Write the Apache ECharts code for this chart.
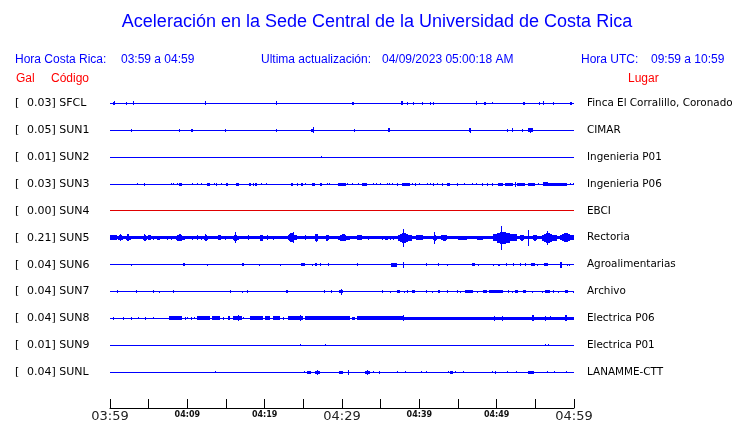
<!DOCTYPE html>
<html><head><meta charset="utf-8">
<script src="https://cdn.jsdelivr.net/npm/echarts@6/dist/echarts.min.js"></script>
<style>html,body{margin:0;padding:0;background:#fff}#c{width:740px;height:423px}</style>
</head><body><div id="c"></div>
<script>
// ---- data ----
const codes = ['SFCL','SUN1','SUN2','SUN3','SUN4','SUN5','SUN6','SUN7','SUN8','SUN9','SUNL'];
const galPeak = ['0.03','0.05','0.01','0.03','0.00','0.21','0.04','0.04','0.04','0.01','0.04'];
const places = ['Finca El Corralillo, Coronado','CIMAR','Ingenieria P01','Ingenieria P06','EBCI','Rectoria','Agroalimentarias','Archivo','Electrica P06','Electrica P01','LANAMME-CTT'];
const tickLabels = ['03:59','04:09','04:19','04:29','04:39','04:49','04:59'];
// baseline noise (relative half-amplitude)
const noiseLevel = [0.5,0.5,0.5,0.5,0.5,1.5,0.5,0.5,0.7,0.5,0.5];
// bursts: [startMinute, endMinute, relative half-amplitude]  (minutes after 03:59)
const SFCL = [[0.43,0.65,1.5],[0.56,0.56,2],[2.11,2.11,1.5],[2.94,2.94,2],[12.32,12.32,2],[21.5,21.5,2],[31.3,31.6,1.5],[37.63,37.89,2],[38.44,38.44,1.5],[39.22,39.22,1.5],[40.3,40.3,1.5],[41.38,41.38,1.5],[41.8,41.8,1.5],[47.35,47.5,2],[48.4,48.66,1.5],[49.35,49.35,1],[53.4,53.66,1.5],[55.47,55.47,1.5],[56.03,56.03,2],[57.28,57.28,1.5],[59.5,59.75,1.5]];
const SUN1 = [[2.75,2.75,1.5],[8.96,8.96,1.5],[10.5,10.7,1.5],[14.91,14.91,1.5],[21.5,21.5,1.5],[26.0,26.35,1.5],[26.21,26.21,3],[31.59,31.59,1.5],[35.9,36.25,2],[46.4,46.7,2],[46.55,46.55,2.5],[51.29,51.29,1.5],[51.94,51.94,2],[53.31,53.31,1.5],[54.05,54.66,2],[54.3,54.3,2.5]];
const SUN2 = [[27.28,27.28,1]];
const SUN3 = [[3.53,3.53,0.7],[4.44,4.44,1.5],[7.89,7.89,1],[8.19,8.19,1],[8.71,8.71,0.7],[8.96,9.31,1.5],[10.65,10.65,1],[11.25,11.25,1],[11.81,11.81,1],[12.5,12.93,1.5],[13.49,13.49,1],[13.71,13.71,1.5],[14.31,14.31,1],[15.0,15.26,1.5],[16.29,16.72,1.5],[17.93,18.19,1.5],[18.45,18.45,1.5],[18.71,19.05,1.5],[19.52,19.52,1],[20.17,20.17,1],[23.36,23.71,1.5],[24.14,24.14,1.5],[24.65,25.0,1.5],[25.17,25.17,1],[26.12,26.46,1.5],[27.15,27.37,1.5],[28.02,28.02,1],[28.36,28.36,1],[29.52,30.51,1.5],[30.6,30.6,1],[31.33,31.33,0.7],[32.02,32.02,1],[32.54,33.19,1.5],[33.96,33.96,1],[34.39,34.39,1],[34.91,34.91,0.7],[35.86,35.86,1],[36.12,36.12,1],[36.42,36.42,1],[37.07,37.07,1.5],[37.71,38.79,1.5],[39.05,39.05,1],[39.44,39.44,1.5],[39.95,39.95,1],[40.95,40.95,1],[41.38,41.38,1],[41.81,41.81,1.5],[42.24,42.24,1],[42.88,42.88,1.5],[43.53,43.96,1.5],[44.82,44.82,1.5],[45.82,45.82,1],[46.76,46.76,0.7],[47.32,47.32,1],[48.06,48.06,1.5],[48.7,48.7,1.5],[49.35,49.35,1.5],[50.21,50.86,1.5],[51.07,52.15,1.5],[52.37,52.37,2.5],[52.58,53.66,1.5],[54.09,54.95,1.5],[55.38,55.38,1],[56.03,56.68,2],[56.68,59.05,1.5],[59.48,59.48,1],[59.91,59.91,1]];
const SUN4 = [];
const SUN5 = [[0,0.87,2.3],[1.07,1.72,3.3],[2.07,2.68,3.7],[4.31,4.75,3.5],[4.87,5.26,2.5],[5.6,5.6,2],[6.04,6.47,2],[7.41,7.41,2],[7.85,7.85,2],[8.53,9.7,3.7],[10.56,10.56,2],[11.21,11.21,2.5],[11.77,11.77,2],[12.15,12.71,3.7],[14.0,14.31,2.5],[14.87,14.87,2],[15.87,16.72,4],[16.16,16.16,5.5],[17.88,17.88,2.5],[19.4,19.74,3],[20.26,20.26,2.5],[21.04,21.04,2],[22.98,24.14,4.5],[23.62,23.62,5.7],[25.21,25.21,2.5],[26.51,26.94,3.5],[26.7,26.7,4],[27.8,28.45,3],[29.52,31.03,3.5],[31.9,32.55,2.5],[33.4,33.4,2],[35.13,35.13,2],[35.56,35.99,2],[36.2,36.2,2],[36.63,36.63,2],[37.28,39.01,5],[37.85,37.85,9],[39.57,40.51,2.5],[41.8,42.24,3.5],[41.9,41.9,6],[42.67,43.97,3],[45.04,46.12,2],[47.42,48.27,1.8],[49.56,52.59,6],[50.56,50.56,12],[52.79,53.88,3],[54.09,54.09,8],[54.53,55.6,3],[55.82,57.76,5],[56.5,56.5,7],[58.19,60,4.5]];
const SUN6 = [[2.67,2.67,1],[9.4,9.65,1.5],[12.59,12.59,1],[14.44,14.44,0.7],[15.09,15.09,0.7],[17.02,17.33,1.5],[18.19,18.19,0.7],[19.27,19.27,1],[21.98,21.98,1],[24.7,25.21,1.5],[26.16,26.16,1],[26.5,26.8,1.5],[27.15,27.15,1.5],[28.14,28.14,1.5],[31.89,31.89,1.5],[35.26,35.26,0.7],[36.29,37.07,2],[37.93,37.93,3],[40.82,40.82,1.5],[42.45,42.45,1.5],[43.53,43.53,1],[45.82,45.82,0.5],[46.76,47.19,1.5],[47.63,47.63,1],[49.57,49.57,1],[50.21,50.43,1],[51.2,51.2,1.5],[52.15,52.15,1.5],[53.01,53.01,1.5],[53.66,53.66,1.5],[54.39,54.95,1.5],[55.25,55.25,1],[56.16,56.68,1.5],[58.19,58.41,3],[59.05,59.05,1],[59.39,59.39,1]];
const SUN7 = [[0.86,0.86,1.5],[3.36,3.36,1.5],[5.6,5.6,1.5],[6.38,6.38,1],[8.19,8.19,1.5],[15.52,15.52,1.5],[17.02,17.02,1],[17.67,17.67,1.5],[21.12,21.12,0.7],[22.76,23.06,1.5],[27.67,27.67,1.5],[28.53,28.53,1.5],[29.65,30.17,1.5],[29.91,29.91,3],[35.13,35.13,1.5],[36.2,36.2,1],[37.07,37.5,1.5],[38.01,38.01,1],[38.36,38.36,1.5],[39.01,39.44,1.5],[40.86,40.86,1.5],[41.59,41.59,1],[42.45,42.67,1.5],[43.53,43.53,1.5],[44.82,44.82,1.5],[45.26,45.26,1],[45.9,46.98,1.5],[47.41,47.41,1],[48.19,48.7,1.5],[49.05,50.86,1.5],[51.5,51.5,1.5],[51.94,51.94,1],[52.37,52.8,1.5],[53.36,53.79,1.5],[54.52,54.52,1],[55.81,55.81,1],[56.25,56.89,1.5],[57.32,57.32,1.5],[57.97,57.97,1],[58.83,59.26,1.5],[59.91,59.91,1]];
const SUN8 = [[0.43,0.43,1.5],[1.64,1.64,1.5],[2.67,2.67,1.5],[3.58,3.58,1],[4.53,4.53,1.5],[5.6,5.6,1],[7.15,7.15,0.7],[7.63,9.27,2],[9.7,9.7,1.5],[10.0,10.0,1],[10.43,10.43,1.5],[10.9,10.9,1],[11.29,12.93,2],[13.15,14.22,2],[14.65,14.65,1.5],[15.21,15.52,2],[15.95,17.02,2],[16.59,16.59,3],[17.2,17.2,1],[18.1,19.83,2],[20.04,20.69,2],[21.12,21.98,2],[22.41,22.41,1.5],[23.06,25.0,2],[24.57,24.57,3],[25.21,31.03,2],[31.3,31.68,1.5],[31.9,37.93,2],[37.93,37.93,3],[37.93,60,1.3],[49.7,49.7,2.5],[50.73,50.73,2.5],[54.52,54.87,3],[56.25,56.25,2.5],[56.9,56.9,2],[58.83,59.05,3]];
const SUN9 = [[24.57,24.57,1],[27.84,27.84,1],[33.01,33.01,0.7],[54.6,54.6,0.7],[56.25,56.25,1],[56.67,56.67,1]];
const SUNL = [[13.58,13.58,0.7],[25.08,25.08,0.7],[25.43,25.95,1.5],[26.51,27.15,1.5],[26.8,26.8,2.5],[29.65,30.09,1.5],[30.81,30.81,2.5],[32.97,33.62,1.5],[33.23,33.23,2.5],[34.05,34.05,1],[34.82,34.82,1.5],[37.15,37.15,1],[38.18,38.18,1],[40.17,40.17,0.7],[40.82,40.82,1],[43.67,43.67,1],[43.96,44.31,1.5],[44.65,44.65,1],[45.6,45.6,0.7],[49.35,49.35,1],[49.78,49.78,1.5],[51.37,51.37,1],[52.5,52.5,0.7],[54.09,54.82,1.5],[56.47,56.47,1],[57.45,57.45,1],[58.92,58.92,1]];
const traces = [SFCL,SUN1,SUN2,SUN3,SUN4,SUN5,SUN6,SUN7,SUN8,SUN9,SUNL];

// ---- styles ----
const BLUE = '#0000FF', RED = '#FF0000';
const traceColor = codes.map(c => c === 'SUN4' ? '#E00000' : BLUE);
const AMP = 1/27; // relative amplitude -> axis units
const N = codes.length;

const chart = echarts.init(document.getElementById('c'), null, {renderer:'canvas'});

function pxRect(api, t0, t1, base, a) {
  const p0 = api.coord([t0, base + a * AMP]);
  const p1 = api.coord([t1, base - a * AMP]);
  const x = Math.round(p0[0]);
  const w = Math.max(1, Math.round(p1[0]) - x);
  const y = Math.round(p0[1]);
  const h = Math.max(1, Math.round(p1[1]) - y);
  return {x: x, y: y, width: w, height: h};
}

const series = traces.map((bursts, i) => {
  const base = N - i;
  const data = [[0, 60, noiseLevel[i]]].concat(bursts);
  return {
    type: 'custom',
    name: codes[i],
    coordinateSystem: 'cartesian2d',
    encode: {x: [0, 1], y: 2},
    clip: false,
    silent: true,
    animation: false,
    data: data,
    renderItem: function (params, api) {
      const t0 = api.value(0), t1 = api.value(1), a = api.value(2);
      const fill = traceColor[i];
      const outer = pxRect(api, t0, t1, base, a);
      if (params.dataIndex > 0 && a > 2.5 && outer.width > 3) {
        // stepped burst envelope: wide low part, narrower peak part
        const d = t1 - t0;
        const r1 = pxRect(api, t0, t1, base, Math.max(noiseLevel[i], a * 0.55));
        const r2 = pxRect(api, t0 + d * 0.15, t1 - d * 0.3, base, a * 0.8);
        const r3 = pxRect(api, t0 + d * 0.3, t1 - d * 0.45, base, a);
        return {type: 'group', children: [
          {type: 'rect', shape: r1, style: {fill: fill}},
          {type: 'rect', shape: r2, style: {fill: fill}},
          {type: 'rect', shape: r3, style: {fill: fill}}
        ]};
      }
      return {type: 'rect', shape: outer, style: {fill: fill}};
    }
  };
});

const option = {
  animation: false,
  backgroundColor: '#fff',
  grid: {left: 110, right: 166, top: 76.5, bottom: 13.5, containLabel: false},
  xAxis: {
    type: 'value', min: 0, max: 60, interval: 5,
    axisLine: {show: true, onZero: false, lineStyle: {color: '#000', width: 1}},
    axisTick: {show: true, inside: true, length: 9, lineStyle: {color: '#000'}},
    splitLine: {show: false},
    axisLabel: {
      show: true, margin: 2, showMinLabel: true, showMaxLabel: true,
      formatter: function (v) {
        if (v % 10 !== 0) return '';
        const k = v / 10;
        const s = tickLabels[k];
        return (k % 3 === 0) ? '{big|' + s + '}' : '{small|' + s + '}';
      },
      rich: {
        big: {fontFamily: 'DejaVu Sans', fontSize: 13, color: '#222'},
        small: {fontFamily: 'DejaVu Sans', fontSize: 8, fontWeight: 'bold', color: '#111', padding: [1,0,0,0]}
      }
    }
  },
  yAxis: {type: 'value', min: -1/3, max: 12, show: false},
  series: series
};
chart.setOption(option);

// ---- text ----
const g = [];
const hdr = (txt, x, y, color, size, align) => ({type: 'text', x: x, y: y, style: {text: txt, fill: color, font: size + 'px "Liberation Sans", Arial, sans-serif', textAlign: align || 'left', textVerticalAlign: 'middle'}});
g.push(hdr('Aceleración en la Sede Central de la Universidad de Costa Rica', 377, 22, BLUE, 18, 'center'));
g.push(hdr('Hora Costa Rica:', 15, 60, BLUE, 12));
g.push(hdr(tickLabels[0] + ' a ' + tickLabels[6], 121, 60, BLUE, 12));
g.push(hdr('Ultima actualización:', 261, 60, BLUE, 12));
g.push(hdr('04/09/2023 05:00:18 AM', 382, 60, BLUE, 12));
g.push(hdr('Hora UTC:', 581, 60, BLUE, 12));
g.push(hdr('09:59 a 10:59', 651, 60, BLUE, 12));
g.push(hdr('Gal', 16, 79, RED, 12));
g.push(hdr('Código', 51, 79, RED, 12));
g.push(hdr('Lugar', 628, 79, RED, 12));
for (let i = 0; i < N; i++) {
  const py = chart.convertToPixel({gridIndex: 0}, [0, N - i])[1];
  const f = '11px "DejaVu Sans", sans-serif';
  g.push({type: 'text', x: 15, y: py, style: {text: '[', fill: '#000', font: f, textVerticalAlign: 'middle'}});
  g.push({type: 'text', x: 27, y: py, style: {text: galPeak[i] + '] ' + codes[i], fill: '#000', font: f, textVerticalAlign: 'middle'}});
  g.push({type: 'text', x: 587, y: py, style: {text: places[i], fill: '#000', font: '10.4px "DejaVu Sans", sans-serif', textVerticalAlign: 'middle'}});
}
chart.setOption({graphic: {elements: g}});
</script>
</body></html>
